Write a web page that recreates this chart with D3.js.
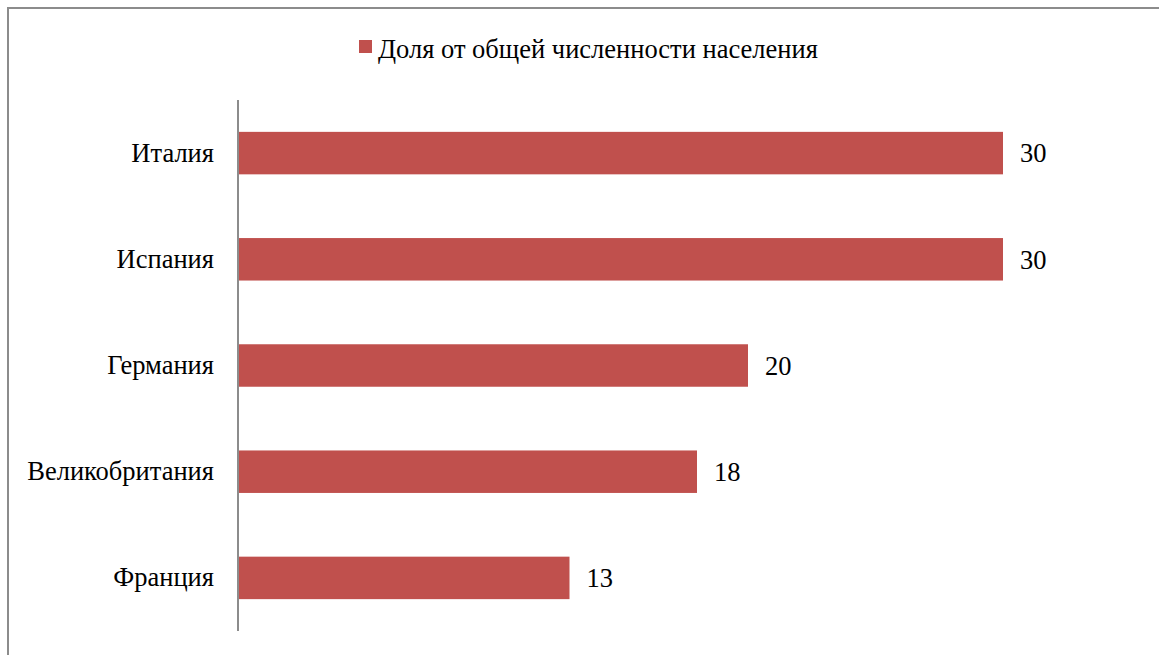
<!DOCTYPE html>
<html>
<head>
<meta charset="utf-8">
<script src="https://cdn.jsdelivr.net/npm/d3@7"></script>
<style>
  body { margin: 0; background: #fff; }
  text { font-family: "Liberation Serif", serif; }
</style>
</head>
<body>
<script>
// данные диаграммы
var countries = ["Италия", "Испания", "Германия", "Великобритания", "Франция"];
var values = [30, 30, 20, 18, 13];
var seriesName = "Доля от общей численности населения";

var W = 1159, H = 655;
var fontSize = 26.5;
var margin = {top: 100, left: 238},
    height = 631 - margin.top;

var svg = d3.select("body").append("svg")
    .attr("width", W)
    .attr("height", H)
    .attr("font-family", "Liberation Serif");

// рамка вокруг диаграммы
svg.append("rect")
    .attr("x", 8).attr("y", 8)
    .attr("width", W + 10).attr("height", H + 10)
    .attr("fill", "none")
    .attr("stroke", "#8c8c8c")
    .attr("stroke-width", 2);

var g = svg.append("g")
    .attr("transform", "translate(" + margin.left + "," + margin.top + ")");

var x = d3.scaleLinear().domain([0, 30]).range([0, 765]);
var y = d3.scaleBand().domain(countries).range([0, height]).paddingInner(0.6).paddingOuter(0.3);

var data = countries.map(function(c, i) { return {name: c, value: values[i]}; });

g.selectAll(".bar")
    .data(data)
  .enter().append("rect")
    .attr("class", "bar")
    .attr("x", 0)
    .attr("y", function(d) { return y(d.name); })
    .attr("width", function(d) { return x(d.value); })
    .attr("height", y.bandwidth())
    .attr("fill", "#c0504d");

// подписи значений
g.selectAll(".val")
    .data(data)
  .enter().append("text")
    .attr("x", function(d) { return x(d.value) + 17; })
    .attr("y", function(d) { return y(d.name) + y.bandwidth() / 2; })
    .attr("dy", "0.35em")
    .attr("font-size", fontSize)
    .attr("fill", "#000")
    .text(function(d) { return d.value; });

// ось y
var yAxis = g.append("g")
    .call(d3.axisLeft(y).tickSize(0).tickPadding(24))
    .attr("font-family", "Liberation Serif")
    .attr("font-size", fontSize);
yAxis.select(".domain").attr("stroke", "#8c8c8c").attr("stroke-width", 2)
    .attr("d", "M0,0V" + height);
yAxis.selectAll("text").attr("fill", "#000");

// легенда
var legend = svg.append("g").attr("transform", "translate(359,40)");
legend.append("rect")
    .attr("width", 13).attr("height", 13)
    .attr("fill", "#c0504d");
legend.append("text")
    .attr("x", 19).attr("y", 18)
    .attr("font-size", fontSize)
    .attr("fill", "#000")
    .text(seriesName);
</script>
</body>
</html>
